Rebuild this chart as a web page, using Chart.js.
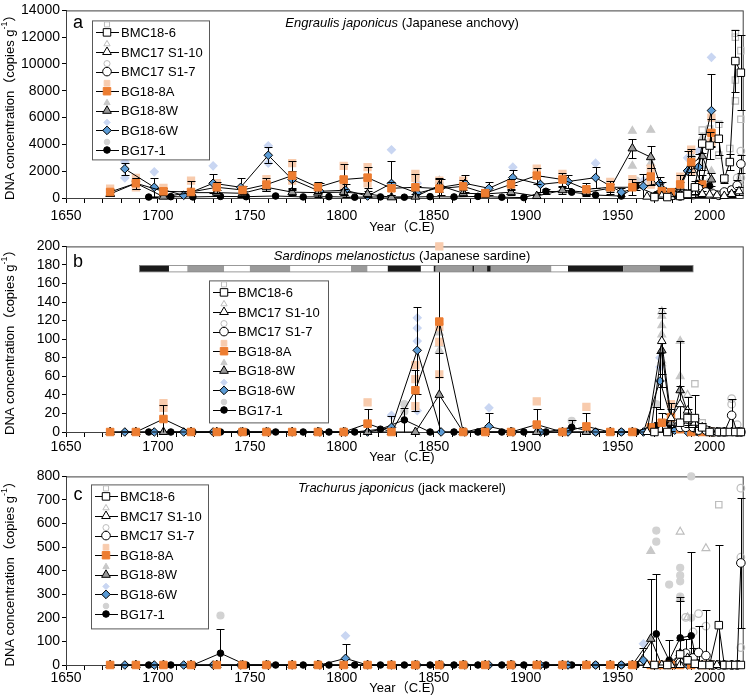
<!DOCTYPE html>
<html>
<head>
<meta charset="utf-8">
<script src="https://cdn.jsdelivr.net/npm/chart.js@4.4.0/dist/chart.umd.min.js"></script>
<style>
  html, body { margin: 0; padding: 0; background: #fff; }
  #wrap { position: relative; width: 749px; height: 696px; }
  canvas { position: absolute; left: 0; }
</style>
</head>
<body>
<div id="wrap">
  <canvas id="chartA" width="749" height="236" style="top:0px"></canvas>
  <canvas id="chartB" width="749" height="230" style="top:236px"></canvas>
  <canvas id="chartC" width="749" height="230" style="top:466px"></canvas>
</div>
<script>
'use strict';

// 系列名と目盛り
const seriesNames = ['BMC18-6', 'BMC17 S1-10', 'BMC17 S1-7', 'BG18-8A', 'BG18-8W', 'BG18-6W', 'BG17-1'];
const xTickLabels = [1650, 1700, 1750, 1800, 1850, 1900, 1950, 2000];

// 各コアの試料年代 (C.E)
const yearsBMC18_6 = [1970, 1977, 1984, 1988, 1992, 1996, 2000, 2005, 2008, 2011, 2014, 2017];
const yearsBMC17_S1_10 = [1966, 1974, 1979, 1984, 1988, 1992, 1996, 2000, 2004, 2008, 2012, 2016];
const yearsBMC17_S1_7 = [1984, 1987, 1991, 1994, 1998, 2002, 2005, 2008, 2012, 2015, 2017];
const yearsBG18_8 = [1674, 1688, 1703, 1718, 1732, 1746, 1759, 1773, 1787, 1801, 1814, 1827, 1840, 1853, 1866,
  1878, 1892, 1906, 1920, 1933, 1946, 1958, 1968, 1974, 1979, 1984, 1990, 1996, 2001];
const yearsBG18_6W = [1682, 1698, 1714, 1730, 1745, 1760, 1773, 1788, 1802, 1814, 1827, 1841, 1854, 1867, 1880,
  1893, 1908, 1923, 1938, 1952, 1964, 1973, 1981, 1988, 1994, 2001];
const yearsBG17_1 = [1695, 1707, 1719, 1734, 1748, 1764, 1779, 1793, 1807, 1821, 1834, 1848, 1861, 1874, 1887,
  1899, 1911, 1925, 1938, 1952, 1960, 1971, 1978, 1984, 1990, 1993, 1997, 2000];

// a: カタクチイワシ
const anchovyBMC18_6 = [70, 70, 150, 300, 800, 4060, 3915, 4420, 1450, 2680, 10220, 9350];
const anchovyBMC18_6Err = [0, 0, 100, 200, 500, 700, 1000, 1230, 300, 600, 2320, 2800];
const anchovyS1_10 = [100, 150, 80, 200, 150, 400, 300, 250, 200, 150, 300, 500];
const anchovyS1_10Err = [0, 0, 0, 100, 0, 300, 200, 0, 0, 0, 200, 300];
const anchovyS1_7 = [150, 300, 250, 700, 450, 300, 200, 450, 600, 940, 2540];
const anchovyS1_7Err = [0, 0, 0, 300, 200, 0, 0, 0, 300, 400, 700];
const anchovyBG18_8A = [450, 1100, 500, 450, 800, 600, 1000, 1670, 800, 1380, 1520, 725, 800, 700, 870,
  360, 1015, 1670, 1380, 650, 800, 800, 1600, 500, 435, 1015, 2680, 1000, 4860];
const anchovyBG18_8AErr = [250, 400, 250, 850, 400, 300, 500, 1080, 400, 1160, 800, 500, 1000, 800, 500,
  300, 400, 600, 500, 500, 500, 600, 650, 300, 300, 700, 940, 700, 1000];
const anchovyBG18_8W = [300, 1100, 100, 400, 400, 350, 800, 435, 400, 435, 300, 50, 100, 940, 360,
  300, 435, 145, 580, 435, 725, 3700, 3045, 700, 300, 800, 2540, 3120, 1380];
const anchovyBG18_8WErr = [150, 400, 150, 200, 200, 200, 300, 200, 300, 200, 200, 150, 200, 500, 200,
  150, 200, 150, 250, 200, 300, 720, 800, 500, 200, 400, 600, 1000, 500];
const anchovyBG18_6W = [2175, 800, 200, 1100, 800, 3190, 1380, 500, 580, 145, 1090, 360, 800, 1090, 725,
  1520, 1015, 1230, 1520, 435, 870, 1090, 220, 2030, 2320, 6525];
const anchovyBG18_6WErr = [450, 700, 300, 700, 700, 580, 600, 600, 500, 200, 1660, 500, 600, 650, 500,
  580, 600, 500, 800, 300, 900, 500, 200, 1500, 1000, 2700];
const anchovyBG17_1 = [70, 100, 80, 120, 100, 150, 80, 100, 60, 80, 60, 100, 80, 120, 60,
  30, 500, 435, 220, 145, 870, 250, 150, 300, 400, 600, 700, 900];
const anchovyBG17_1Err = [0, 0, 0, 0, 0, 0, 0, 0, 0, 0, 0, 0, 0, 0, 0,
  0, 200, 0, 0, 0, 300, 0, 0, 0, 0, 0, 0, 0];

const repAnchovyBMC18_6 = [[1996, 5075], [2000, 5150], [2011, 3700], [2014, 12300], [2014, 12000], [2014, 8800],
  [2014, 7250], [2017, 5870], [2017, 11000], [2005, 5500], [2005, 3200]];
const repAnchovyS1_10 = [[1992, 800], [1996, 1200], [2000, 900], [2016, 1200]];
const repAnchovyS1_7 = [[1994, 1100], [2015, 1500], [2017, 3500], [2017, 1500]];
const repAnchovyBG18_8A = [[1674, 700], [1688, 1500], [1688, 800], [1703, 750], [1718, 1300], [1732, 1100],
  [1759, 1400], [1773, 2600], [1773, 1300], [1801, 2400], [1801, 900], [1814, 2300], [1814, 1100], [1840, 1800],
  [1840, 1500], [1853, 1300], [1866, 1300], [1906, 2200], [1920, 1800], [1933, 400], [1946, 1200], [1958, 1400],
  [1968, 2200], [1968, 1000], [1984, 1600], [1990, 3600], [1990, 2000], [2001, 6000], [2001, 4200]];
const repAnchovyBG18_8W = [[1688, 1400], [1853, 1300], [1958, 5000], [1958, 2400], [1968, 5075], [1968, 2600],
  [1990, 3200], [1996, 4500], [1996, 2400], [2001, 2000]];
const repAnchovyBG18_6W = [[1682, 1500], [1682, 2700], [1698, 1950], [1730, 2400], [1760, 3900], [1760, 2600],
  [1827, 3600], [1841, 1100], [1893, 2300], [1938, 2600], [1964, 1300], [1988, 3000], [1994, 3500], [2001, 10500]];
const repAnchovyBG17_1 = [[1960, 1300], [1993, 800], [1997, 1000], [2000, 1200]];

// b: マイワシ
const sardineBMC18_6 = [0, 0, 10, 15, 15, 5, 0, 0, 0, 0, 0, 0];
const sardineBMC18_6Err = [0, 0, 0, 10, 25, 5, 0, 0, 0, 0, 0, 0];
const sardineS1_10 = [0, 98, 15, 30, 23, 10, 5, 0, 0, 0, 0, 0];
const sardineS1_10Err = [0, 36, 10, 20, 15, 5, 0, 0, 0, 0, 0, 0];
const sardineS1_7 = [5, 5, 5, 2, 2, 0, 0, 0, 18, 0, 0];
const sardineS1_7Err = [0, 0, 5, 0, 5, 0, 0, 0, 18, 0, 0];
const sardineBG18_8A = [0, 0, 14, 0, 0, 0, 0, 0, 0, 0, 9, 0, 45, 119, 0,
  0, 0, 8, 0, 6, 0, 0, 5, 10, 16, 3, 0, 0, 0];
const sardineBG18_8AErr = [0, 0, 15, 0, 0, 0, 0, 0, 0, 0, 16, 0, 22, 60, 0,
  0, 0, 17, 0, 14, 0, 0, 0, 10, 15, 0, 0, 0, 0];
const sardineBG18_8W = [0, 0, 0, 0, 0, 0, 0, 0, 0, 0, 0, 0, 0, 40, 0,
  0, 0, 0, 0, 0, 0, 0, 0, 88, 10, 45, 10, 0, 0];
const sardineBG18_8WErr = [0, 0, 0, 0, 0, 0, 0, 0, 0, 0, 0, 0, 0, 45, 0,
  0, 0, 0, 0, 0, 0, 0, 0, 40, 5, 53, 5, 0, 0];
const sardineBG18_6W = [0, 0, 0, 0, 0, 0, 0, 0, 0, 0, 5, 88, 0, 0, 6,
  0, 0, 0, 0, 0, 0, 55, 2, 0, 0, 0];
const sardineBG18_6WErr = [0, 0, 0, 0, 0, 0, 0, 0, 0, 0, 12, 47, 0, 0, 14,
  0, 0, 0, 0, 0, 0, 30, 0, 0, 0, 0];
const sardineBG17_1 = [0, 0, 0, 0, 0, 0, 0, 0, 0, 3, 13, 0, 0, 0, 0,
  0, 0, 5, 0, 0, 0, 7, 9, 4, 2, 0, 0, 0];
const sardineBG17_1Err = [0, 0, 0, 0, 0, 0, 0, 0, 0, 0, 13, 0, 0, 0, 0,
  0, 0, 8, 0, 0, 0, 20, 10, 0, 0, 0, 0, 0];

const repSardineBMC18_6 = [[1992, 52], [1996, 10]];
const repSardineS1_10 = [[1974, 130], [1988, 40]];
const repSardineS1_7 = [[2012, 36], [2012, 30], [2015, 8]];
const repSardineBG18_8A = [[1703, 31], [1703, 26], [1814, 32], [1840, 72], [1840, 57], [1840, 28], [1853, 200],
  [1853, 113], [1853, 97], [1853, 62], [1906, 33], [1933, 27], [1979, 30]];
const repSardineBG18_8W = [[1853, 107], [1853, 95], [1853, 88], [1974, 125], [1974, 115], [1974, 105], [1974, 88],
  [1974, 77], [1974, 74], [1984, 98], [1984, 60]];
const repSardineBG18_6W = [[1827, 18], [1841, 123], [1841, 112], [1841, 98], [1841, 23], [1880, 26], [1973, 80], [1973, 70]];
const repSardineBG17_1 = [[1834, 30], [1834, 22], [1925, 12], [1971, 30]];

// マイワシ資源の高低期 (帯の区切り年と濃淡)
const regimeBounds = [1690, 1706, 1716, 1736, 1750, 1772, 1805, 1814, 1825, 1843, 1850, 1851, 1871, 1872, 1879,
  1881, 1914, 1923, 1953, 1973, 1991];
const regimeShade = ['k', 'w', 'g', 'w', 'g', 'w', 'g', 'w', 'k', 'w', 'k', 'g', 'k', 'g', 'k', 'g', 'w', 'k', 'g', 'k'];

// c: マアジ
const mackerelBMC18_6 = [0, 0, 45, 20, 5, 0, 0, 169, 0, 0, 0, 0];
const mackerelBMC18_6Err = [0, 0, 60, 0, 0, 0, 0, 342, 0, 0, 0, 0];
const mackerelS1_10 = [0, 0, 0, 0, 30, 0, 0, 0, 0, 0, 0, 0];
const mackerelS1_10Err = [0, 0, 0, 0, 0, 0, 0, 0, 0, 0, 0, 0];
const mackerelS1_7 = [10, 50, 30, 53, 40, 0, 0, 0, 0, 0, 433];
const mackerelS1_7Err = [0, 60, 40, 112, 195, 0, 0, 0, 0, 0, 276];
const mackerelBG18_8A = [0, 0, 0, 0, 0, 0, 0, 0, 0, 0, 0, 0, 0, 0, 0,
  0, 0, 0, 0, 0, 0, 0, 0, 0, 0, 0, 0, 0, 0];
const mackerelBG18_8AErr = [0, 0, 0, 0, 0, 0, 0, 0, 0, 0, 0, 0, 0, 0, 0,
  0, 0, 0, 0, 0, 0, 0, 0, 0, 0, 0, 0, 0, 0];
const mackerelBG18_8W = [0, 0, 0, 0, 0, 0, 0, 0, 0, 0, 0, 0, 0, 0, 0,
  0, 0, 0, 0, 0, 0, 0, 111, 0, 0, 50, 0, 0, 0];
const mackerelBG18_8WErr = [0, 0, 0, 0, 0, 0, 0, 0, 0, 0, 0, 0, 0, 0, 0,
  0, 0, 0, 0, 0, 0, 0, 252, 0, 0, 220, 0, 0, 0];
const mackerelBG18_6W = [0, 0, 0, 0, 0, 0, 0, 0, 28, 0, 0, 0, 0, 0, 0,
  0, 0, 0, 0, 0, 20, 0, 0, 0, 0, 0];
const mackerelBG18_6WErr = [0, 0, 0, 0, 0, 0, 0, 0, 62, 0, 0, 0, 0, 0, 0,
  0, 0, 0, 0, 0, 50, 0, 0, 0, 0, 0];
const mackerelBG17_1 = [0, 0, 0, 50, 0, 0, 0, 0, 0, 0, 0, 0, 0, 0, 0,
  0, 0, 0, 0, 0, 0, 132, 20, 115, 124, 10, 0, 0];
const mackerelBG17_1Err = [0, 0, 0, 104, 0, 0, 0, 0, 0, 0, 0, 0, 0, 0, 0,
  0, 0, 0, 0, 0, 0, 256, 87, 175, 354, 0, 0, 0];

const repMackerelBMC18_6 = [[2005, 680]];
const repMackerelS1_10 = [[1984, 565], [1988, 202], [1998, 495]];
const repMackerelS1_7 = [[1987, 202], [1991, 140], [1994, 218], [1998, 165], [2017, 750], [2017, 457], [2017, 74]];
const repMackerelBG18_8A = [];
const repMackerelBG18_8W = [[1968, 483], [1984, 280]];
const repMackerelBG18_6W = [[1802, 124], [1964, 90]];
const repMackerelBG17_1 = [[1734, 210], [1971, 570], [1971, 523], [1978, 341], [1984, 412], [1984, 380],
  [1984, 355], [1984, 290], [1990, 800], [1990, 200]];

// 見た目の設定
const FONT = "'Liberation Sans', Arial, 'Noto Sans CJK JP', sans-serif";
Chart.defaults.font.family = FONT;
Chart.defaults.color = '#000';

const markerStyles = [
  { pointStyle: 'rect', radius: 5.3, fill: '#ffffff', stroke: '#000000' },
  { pointStyle: 'triangle', radius: 5, fill: '#ffffff', stroke: '#000000' },
  { pointStyle: 'circle', radius: 4.3, fill: '#ffffff', stroke: '#000000' },
  { pointStyle: 'rect', radius: 5.3, fill: '#ED7D31', stroke: '#ED7D31' },
  { pointStyle: 'triangle', radius: 5, fill: '#999999', stroke: '#000000' },
  { pointStyle: 'rectRot', radius: 4.3, fill: '#5B9BD5', stroke: '#000000' },
  { pointStyle: 'circle', radius: 3.3, fill: '#000000', stroke: '#000000' },
];
const repStyles = [
  { pointStyle: 'rect', radius: 4.5, fill: 'rgba(255,255,255,0)', stroke: '#bdbdbd' },
  { pointStyle: 'triangle', radius: 4.5, fill: 'rgba(255,255,255,0)', stroke: '#bdbdbd' },
  { pointStyle: 'circle', radius: 3.8, fill: 'rgba(255,255,255,0)', stroke: '#bdbdbd' },
  { pointStyle: 'rect', radius: 5, fill: '#F8CBAD', stroke: '#F8CBAD' },
  { pointStyle: 'triangle', radius: 4.5, fill: '#c8c8c8', stroke: '#c8c8c8' },
  { pointStyle: 'rectRot', radius: 4, fill: '#c9d6f2', stroke: '#c9d6f2' },
  { pointStyle: 'circle', radius: 3.5, fill: '#d2d2d2', stroke: '#d2d2d2' },
];

function drawMarker(ctx, st, x, y, r) {
  ctx.save();
  ctx.fillStyle = st.fill;
  ctx.strokeStyle = st.stroke;
  ctx.lineWidth = 1;
  Chart.helpers.drawPoint(ctx, { pointStyle: st.pointStyle, radius: r || st.radius, rotation: 0, borderWidth: 1 }, x, y);
  ctx.restore();
}

// エラーバー (系列の描画直前に描く)
const errorBarPlugin = {
  id: 'errorBars',
  beforeDatasetDraw(chart, args) {
    const ds = chart.data.datasets[args.index];
    if (!ds.errors) return;
    const ctx = chart.ctx, xs = chart.scales.x, ys = chart.scales.y;
    ctx.save();
    ctx.strokeStyle = '#000';
    ctx.lineWidth = 1;
    ds.data.forEach((p, i) => {
      const e = ds.errors[i];
      if (!e) return;
      const px = Math.round(xs.getPixelForValue(p.x)) + 0.5;
      const top = Math.round(ys.getPixelForValue(p.y + e)) + 0.5;
      const low = Math.max(0, p.y - e);
      const bot = Math.round(ys.getPixelForValue(low)) + 0.5;
      ctx.beginPath();
      ctx.moveTo(px, top); ctx.lineTo(px, bot);
      ctx.moveTo(px - 4, top); ctx.lineTo(px + 4, top);
      if (low > 0) { ctx.moveTo(px - 4, bot); ctx.lineTo(px + 4, bot); }
      ctx.stroke();
    });
    ctx.restore();
  }
};

// 枠・凡例・文字など
function makeDecor(p) {
  return {
    id: 'decor',
    beforeDatasetsDraw(chart) {
      const { ctx, chartArea: a } = chart;
      ctx.save();
      ctx.strokeStyle = '#404040';
      ctx.lineWidth = 1;
      ctx.strokeRect(a.left + 0.5, a.top + 0.5, a.right - a.left, a.bottom - a.top);
      ctx.restore();
    },
    afterDatasetsDraw(chart) {
      const { ctx, chartArea: a } = chart;
      const xs = chart.scales.x;
      if (p.regime) {
        const y0 = a.top + 19;
        const shade = { k: '#1a1a1a', g: '#9a9a9a', w: '#ffffff' };
        ctx.save();
        for (let i = 0; i < regimeShade.length; i++) {
          const x0 = xs.getPixelForValue(regimeBounds[i]);
          const x1 = xs.getPixelForValue(regimeBounds[i + 1]);
          ctx.fillStyle = shade[regimeShade[i]];
          ctx.fillRect(x0, y0, x1 - x0, 6.5);
        }
        const xa = xs.getPixelForValue(regimeBounds[0]);
        const xb = xs.getPixelForValue(regimeBounds[regimeBounds.length - 1]);
        ctx.strokeStyle = '#808080';
        ctx.lineWidth = 0.8;
        ctx.strokeRect(xa, y0, xb - xa, 6.5);
        ctx.restore();
      }
      // 凡例
      const L = p.legend;
      const bx = a.left + L.x, by = a.top + L.y;
      ctx.save();
      ctx.fillStyle = '#fff';
      ctx.fillRect(bx, by, L.w, L.h);
      ctx.strokeStyle = '#595959';
      ctx.lineWidth = 1;
      ctx.strokeRect(bx + 0.5, by + 0.5, L.w, L.h);
      ctx.font = '13px ' + FONT;
      ctx.textAlign = 'left';
      ctx.textBaseline = 'middle';
      for (let i = 0; i < seriesNames.length; i++) {
        const cy = by + 12 + i * 19.6;
        const mx = bx + 15;
        drawMarker(ctx, repStyles[i], mx, cy - 8, repStyles[i].radius * 0.8);
        ctx.strokeStyle = '#000';
        ctx.beginPath();
        ctx.moveTo(bx + 4, Math.round(cy) + 0.5);
        ctx.lineTo(bx + 27, Math.round(cy) + 0.5);
        ctx.stroke();
        drawMarker(ctx, markerStyles[i], mx, cy);
        ctx.fillStyle = '#000';
        ctx.fillText(seriesNames[i], bx + 29, cy + 1);
      }
      ctx.restore();
    },
    afterDraw(chart) {
      const { ctx, chartArea: a } = chart;
      ctx.save();
      ctx.fillStyle = '#000';
      ctx.textBaseline = 'middle';
      // パネル記号
      ctx.font = '18px ' + FONT;
      ctx.textAlign = 'center';
      ctx.fillText(p.label, a.left + 12, a.top + p.labelDy);
      // 種名
      const fItal = 'italic 13px ' + FONT, fNorm = '13px ' + FONT;
      ctx.font = fItal;
      const w1 = ctx.measureText(p.species[0]).width;
      ctx.font = fNorm;
      const w2 = ctx.measureText(p.species[1]).width;
      const tx = 402 - (w1 + w2) / 2;
      ctx.textAlign = 'left';
      ctx.font = fItal;
      ctx.fillText(p.species[0], tx, a.top + p.titleDy);
      ctx.font = fNorm;
      ctx.fillText(p.species[1], tx + w1, a.top + p.titleDy);
      // x 軸タイトル
      ctx.textAlign = 'center';
      ctx.font = '13px ' + FONT;
      ctx.fillText('Year（C.E)', 402, a.bottom + p.xTitleGap);
      // y 軸タイトル
      ctx.translate(10, (a.top + a.bottom) / 2);
      ctx.rotate(-Math.PI / 2);
      const parts = [['DNA concentration（copies g', 13, 0], ['-1', 9, -5], ['）', 13, 0]];
      let total = 0;
      parts.forEach(pt => { ctx.font = pt[1] + 'px ' + FONT; total += ctx.measureText(pt[0]).width; });
      let cx = -total / 2;
      ctx.textAlign = 'left';
      parts.forEach(pt => {
        ctx.font = pt[1] + 'px ' + FONT;
        ctx.fillText(pt[0], cx, pt[2]);
        cx += ctx.measureText(pt[0]).width;
      });
      ctx.restore();
    }
  };
}

function makePanel(canvasId, p) {
  const datasets = [];
  for (let i = 0; i < seriesNames.length; i++) {
    const st = markerStyles[i];
    datasets.push({
      label: seriesNames[i],
      data: p.years[i].map((yr, k) => ({ x: yr, y: p.values[i][k] })),
      errors: p.errors[i],
      showLine: true,
      borderColor: '#000',
      borderWidth: 1,
      pointStyle: st.pointStyle,
      pointRadius: st.radius,
      pointBackgroundColor: st.fill,
      pointBorderColor: st.stroke,
      pointBorderWidth: 1,
      clip: false,
    });
  }
  for (let i = 0; i < seriesNames.length; i++) {
    const st = repStyles[i];
    datasets.push({
      label: seriesNames[i] + ' replicate',
      data: p.reps[i].map(r => ({ x: r[0], y: r[1] })),
      showLine: false,
      pointStyle: st.pointStyle,
      pointRadius: st.radius,
      pointBackgroundColor: st.fill,
      pointBorderColor: st.stroke,
      pointBorderWidth: 1.2,
      clip: false,
    });
  }
  new Chart(document.getElementById(canvasId), {
    type: 'scatter',
    data: { datasets },
    options: {
      responsive: false,
      animation: false,
      layout: { padding: { top: p.padTop, right: 3, left: 0, bottom: 0 } },
      plugins: { legend: { display: false }, tooltip: { enabled: false } },
      scales: {
        x: {
          type: 'linear', min: 1650, max: 2018,
          afterFit: s => { s.height = p.axisH; },
          afterBuildTicks: s => { s.ticks = s.ticks.filter(t => t.value % 10 === 0); },
          ticks: {
            stepSize: 10, autoSkip: false, maxRotation: 0, padding: p.tickPad,
            font: { size: 14 }, color: '#000',
            callback: v => (xTickLabels.includes(v) ? String(v) : ''),
          },
          grid: { drawOnChartArea: false, drawTicks: true, tickLength: 5, color: '#000' },
          border: { display: true, color: '#000', width: 1 },
        },
        y: {
          min: 0, max: p.yMax,
          afterFit: s => { s.width = 66; },
          ticks: {
            stepSize: p.yStep, autoSkip: false, font: { size: 14 }, color: '#000', padding: 2,
            callback: v => String(v),
          },
          grid: { drawOnChartArea: false, drawTicks: true, tickLength: 4, color: '#000' },
          border: { display: true, color: '#000', width: 1 },
        },
      },
    },
    plugins: [errorBarPlugin, makeDecor(p)],
  });
}

const coreYears = [yearsBMC18_6, yearsBMC17_S1_10, yearsBMC17_S1_7, yearsBG18_8, yearsBG18_8, yearsBG18_6W, yearsBG17_1];

// a
makePanel('chartA', {
  years: coreYears,
  values: [anchovyBMC18_6, anchovyS1_10, anchovyS1_7, anchovyBG18_8A, anchovyBG18_8W, anchovyBG18_6W, anchovyBG17_1],
  errors: [anchovyBMC18_6Err, anchovyS1_10Err, anchovyS1_7Err, anchovyBG18_8AErr, anchovyBG18_8WErr, anchovyBG18_6WErr, anchovyBG17_1Err],
  reps: [repAnchovyBMC18_6, repAnchovyS1_10, repAnchovyS1_7, repAnchovyBG18_8A, repAnchovyBG18_8W, repAnchovyBG18_6W, repAnchovyBG17_1],
  yMax: 14000, yStep: 2000,
  padTop: 5, axisH: 38, tickPad: 5, xTitleGap: 29,
  legend: { x: 26, y: 10, w: 117, h: 139 },
  label: 'a', labelDy: 13, titleDy: 13,
  species: ['Engraulis japonicus', ' (Japanese anchovy)'],
  regime: false,
});

// b
makePanel('chartB', {
  years: coreYears,
  values: [sardineBMC18_6, sardineS1_10, sardineS1_7, sardineBG18_8A, sardineBG18_8W, sardineBG18_6W, sardineBG17_1],
  errors: [sardineBMC18_6Err, sardineS1_10Err, sardineS1_7Err, sardineBG18_8AErr, sardineBG18_8WErr, sardineBG18_6WErr, sardineBG17_1Err],
  reps: [repSardineBMC18_6, repSardineS1_10, repSardineS1_7, repSardineBG18_8A, repSardineBG18_8W, repSardineBG18_6W, repSardineBG17_1],
  yMax: 200, yStep: 20,
  padTop: 2, axisH: 34, tickPad: 2, xTitleGap: 25,
  legend: { x: 143, y: 34, w: 119, h: 142 },
  label: 'b', labelDy: 16, titleDy: 10,
  species: ['Sardinops melanostictus', ' (Japanese sardine)'],
  regime: true,
});

// c
makePanel('chartC', {
  years: coreYears,
  values: [mackerelBMC18_6, mackerelS1_10, mackerelS1_7, mackerelBG18_8A, mackerelBG18_8W, mackerelBG18_6W, mackerelBG17_1],
  errors: [mackerelBMC18_6Err, mackerelS1_10Err, mackerelS1_7Err, mackerelBG18_8AErr, mackerelBG18_8WErr, mackerelBG18_6WErr, mackerelBG17_1Err],
  reps: [repMackerelBMC18_6, repMackerelS1_10, repMackerelS1_7, repMackerelBG18_8A, repMackerelBG18_8W, repMackerelBG18_6W, repMackerelBG17_1],
  yMax: 800, yStep: 100,
  padTop: 4, axisH: 31, tickPad: 0, xTitleGap: 23,
  legend: { x: 25, y: 8, w: 117, h: 144 },
  label: 'c', labelDy: 19, titleDy: 12,
  species: ['Trachurus japonicus', ' (jack mackerel)'],
  regime: false,
});
</script>
</body>
</html>
